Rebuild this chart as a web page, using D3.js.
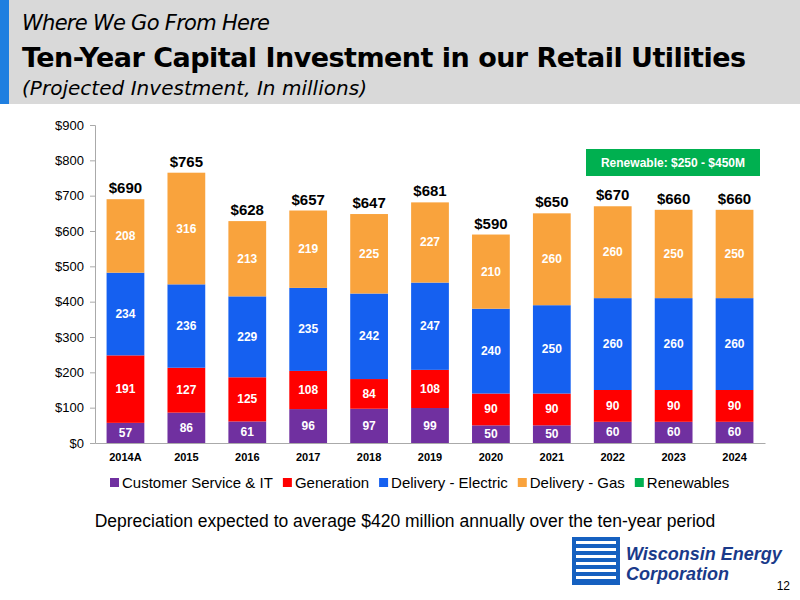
<!DOCTYPE html>
<html><head><meta charset="utf-8">
<script src="https://cdn.jsdelivr.net/npm/d3@7/dist/d3.min.js"></script>
<style>body{margin:0;background:#fff;font-family:Arial,"Liberation Sans",sans-serif}</style>
</head><body><svg id="c" width="800" height="600"></svg>
<script>
const categories=["2014A","2015","2016","2017","2018","2019","2020","2021","2022","2023","2024"];
const customerIT=[57,86,61,96,97,99,50,50,60,60,60];
const generation=[191,127,125,108,84,108,90,90,90,90,90];
const deliveryElectric=[234,236,229,235,242,247,240,250,260,260,260];
const deliveryGas=[208,316,213,219,225,227,210,260,260,250,250];
const totals=["$690","$765","$628","$657","$647","$681","$590","$650","$670","$660","$660"];
const seriesNames=["Customer Service & IT","Generation","Delivery - Electric","Delivery - Gas","Renewables"];
const colors=["#7030A0","#FF0000","#1560F0","#F9A33D","#00B050"];
const yTicks=[0,100,200,300,400,500,600,700,800,900];

const svg=d3.select("#c");
svg.append("rect").attr("width",800).attr("height",104).attr("fill","#D9D9D9");
svg.append("rect").attr("x",0).attr("y",0).attr("width",9).attr("height",104).attr("fill","#1F7FE0");
svg.append("text").attr("x",22).attr("y",30).attr("font-size",21).attr("font-family","DejaVu Sans").attr("font-style","italic").attr("textLength",248).text("Where We Go From Here");
svg.append("text").attr("x",22).attr("y",67).attr("font-size",27).attr("font-family","DejaVu Sans").attr("font-weight","bold").attr("textLength",724).text("Ten-Year Capital Investment in our Retail Utilities");
svg.append("text").attr("x",22).attr("y",95).attr("font-size",20).attr("font-family","DejaVu Sans").attr("font-style","italic").attr("textLength",345).text("(Projected Investment, In millions)");

const m={l:95,r:765,t:125,b:443};
const x=d3.scaleBand().domain(categories).range([m.l,m.r]).paddingInner(0.38).paddingOuter(0.19);
const y=d3.scaleLinear().domain([0,900]).range([m.b,m.t]);
const ya=svg.append("g").attr("transform",`translate(${m.l},0)`).call(d3.axisLeft(y).tickValues(yTicks).tickFormat(d=>"$"+d).tickSize(5).tickPadding(6));
ya.selectAll("text").attr("font-size",13).attr("fill","#000");
ya.select(".domain").attr("stroke","#aaa");ya.selectAll("line").attr("stroke","#aaa");
const xa=svg.append("g").attr("transform",`translate(0,${m.b})`).call(d3.axisBottom(x).tickSize(0).tickPadding(10));
xa.selectAll("text").attr("font-size",11).attr("font-weight","bold").attr("fill","#000");
xa.select(".domain").attr("stroke","#aaa");

const series=[customerIT,generation,deliveryElectric,deliveryGas];
categories.forEach((c,i)=>{
  let base=0;
  series.forEach((s,k)=>{
    const v=s[i];
    svg.append("rect").attr("x",x(c)).attr("width",x.bandwidth()).attr("y",y(base+v)).attr("height",y(base)-y(base+v)).attr("fill",colors[k]);
    svg.append("text").attr("x",x(c)+x.bandwidth()/2).attr("y",y(base+v/2)+4).attr("text-anchor","middle")
      .attr("font-size",12).attr("font-weight","bold").attr("fill","#fff").text(v);
    base+=v;
  });
  svg.append("text").attr("x",x(c)+x.bandwidth()/2).attr("y",y(base)-6).attr("text-anchor","middle")
    .attr("font-size",15).attr("font-weight","bold").text(totals[i]);
});

svg.append("rect").attr("x",586).attr("y",149).attr("width",174).attr("height",27).attr("fill","#00B050");
svg.append("text").attr("x",673).attr("y",167).attr("text-anchor","middle").attr("font-size",12).attr("font-weight","bold").attr("fill","#fff").text("Renewable: $250 - $450M");

const lg=svg.append("g");
let lx=110;
seriesNames.forEach((n,k)=>{
  lg.append("rect").attr("x",lx).attr("y",478).attr("width",9).attr("height",9).attr("fill",colors[k]);
  const t=lg.append("text").attr("x",lx+12).attr("y",488).attr("font-size",15).text(n);
  lx+=t.node().getComputedTextLength()+22;
});
svg.append("text").attr("x",405).attr("y",527).attr("text-anchor","middle").attr("font-size",17.5).text("Depreciation expected to average $420 million annually over the ten-year period");

const lgG=svg.append("g");
lgG.append("rect").attr("x",572).attr("y",537).attr("width",48).attr("height",48).attr("fill","#1560C0");
for(let j=0;j<6;j++) lgG.append("rect").attr("x",576).attr("y",541+j*7).attr("width",40).attr("height",3).attr("fill","#fff");
svg.append("text").attr("x",626).attr("y",560).attr("font-size",18).attr("font-weight","bold").attr("font-style","italic").attr("fill","#1a3a8a").text("Wisconsin Energy");
svg.append("text").attr("x",626).attr("y",580).attr("font-size",18).attr("font-weight","bold").attr("font-style","italic").attr("fill","#1a3a8a").text("Corporation");
svg.append("text").attr("x",790).attr("y",590).attr("text-anchor","end").attr("font-size",12).text("12");
</script></body></html>
